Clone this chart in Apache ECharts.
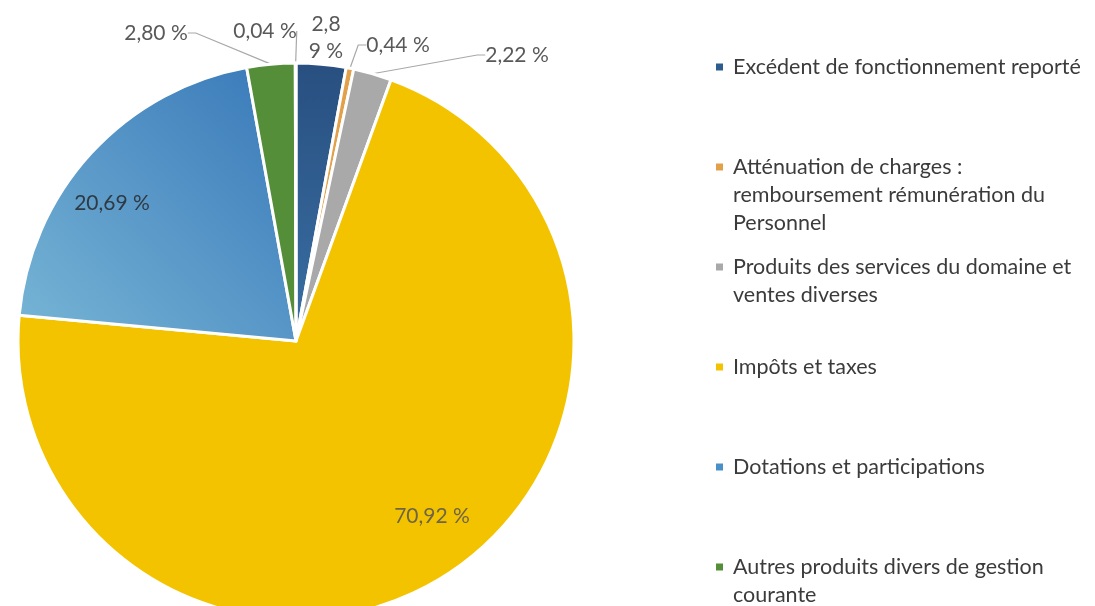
<!DOCTYPE html>
<html>
<head>
<meta charset="utf-8">
<title>Recettes de fonctionnement</title>
<script src="https://cdn.jsdelivr.net/npm/echarts@6/dist/echarts.min.js"></script>
<style>
  html, body { margin: 0; padding: 0; background: #fff; }
  #chart { width: 1095px; height: 606px; }
</style>
</head>
<body>
<div id="chart"></div>
<script>
// categories, in the order of the slices (clockwise from the top)
var categories = [
  'Excédent de fonctionnement reporté',
  'Atténuation de charges : remboursement rémunération du Personnel',
  'Produits des services du domaine et ventes diverses',
  'Impôts et taxes',
  'Dotations et participations',
  'Autres produits divers de gestion courante',
  'Produits exceptionnels'
]
// legend text as it is broken in the picture
var legendLines = [
  ['Excédent de fonctionnement reporté'],
  ['Atténuation de charges :', 'remboursement rémunération du', 'Personnel'],
  ['Produits des services du domaine et', 'ventes diverses'],
  ['Impôts et taxes'],
  ['Dotations et participations'],
  ['Autres produits divers de gestion', 'courante'],
  ['Produits exceptionnels']
]
// share of each category, in percent
var shares = [2.89, 0.44, 2.22, 70.92, 20.69, 2.80, 0.04]

var colors = [
  new echarts.graphic.LinearGradient(0, 0, 0, 1, [
    { offset: 0, color: '#284f80' },
    { offset: 1, color: '#3a6fa4' }
  ]),
  '#e3a04a',
  '#a9a9a9',
  '#f4c300',
  new echarts.graphic.LinearGradient(1, 0, 0, 1, [
    { offset: 0, color: '#3777b8' },
    { offset: 1, color: '#78b6d6' }
  ]),
  '#548e39',
  '#8a5a9e'
]
var iconColors = ['#2c5d8e', '#e3a04a', '#a9a9a9', '#f3c200', '#4a90c8', '#548e39', '#8a5a9e']

// where each percentage label sits (centre of the text)
var labelPos = [
  [326, 38], [398, 45], [517, 55], [432, 516], [112, 203], [156, 33], [265, 31]
]
var insideLabels = [3, 4]

function pct(v) {
  return v.toFixed(2).replace('.', ',') + ' %'
}

var chart = echarts.init(document.getElementById('chart'))

var rich = {
  g: { width: 10 },
  ind: { width: 17 },
  t: { fontFamily: 'Lato', fontSize: 21.5, lineHeight: 28, color: '#3b3b3b' }
}
iconColors.forEach(function(c, i) {
  rich['sq' + i] = { width: 7, height: 7, backgroundColor: c }
})

var data = categories.map(function(name, i) {
  var item = {
    name: name,
    value: shares[i],
    itemStyle: { color: colors[i] }
  }
  if (insideLabels.indexOf(i) >= 0) {
    item.labelLine = { show: false }
    item.label = { color: i === 3 ? '#6e6546' : '#2f3a44' }
  }
  if (i === 0) {
    // the picture wraps this one in a narrow box
    item.label = { width: 36, overflow: 'breakAll', lineHeight: 27, align: 'left' }
  }
  return item
})

var option = {
  animation: false,
  backgroundColor: '#ffffff',
  legend: {
    orient: 'vertical',
    left: 706,
    top: 48,
    height: 1200,
    icon: 'none',
    itemWidth: 0,
    itemHeight: 0,
    itemGap: 16,
    selectedMode: false,
    data: categories,
    textStyle: { fontFamily: 'Lato', fontSize: 21.5, lineHeight: 28, rich: rich },
    formatter: function(name) {
      var i = categories.indexOf(name)
      var lines = legendLines[i].slice()
      while (lines.length < 3) lines.push(' ')
      return lines.map(function(l, k) {
        return (k === 0 ? '{sq' + i + '|}{g|}' : '{ind|}') + '{t|' + l + '}'
      }).join('\n')
    }
  },
  series: [
    {
      type: 'pie',
      center: [296, 341],
      radius: 278,
      startAngle: 90,
      clockwise: true,
      avoidLabelOverlap: false,
      itemStyle: { borderColor: '#ffffff', borderWidth: 3 },
      label: {
        position: 'outside',
        fontFamily: 'Lato',
        fontSize: 21,
        color: '#595959',
        formatter: function(p) { return pct(p.value) }
      },
      labelLine: {
        show: true,
        length: 8,
        length2: 8,
        lineStyle: { color: '#a8a8a8', width: 1.2 }
      },
      labelLayout: function(p) {
        var pos = labelPos[p.dataIndex]
        return { x: pos[0], y: pos[1], align: 'center', verticalAlign: 'middle' }
      },
      emphasis: { disabled: true },
      data: data
    }
  ]
}

chart.setOption(option)
</script>
</body>
</html>
